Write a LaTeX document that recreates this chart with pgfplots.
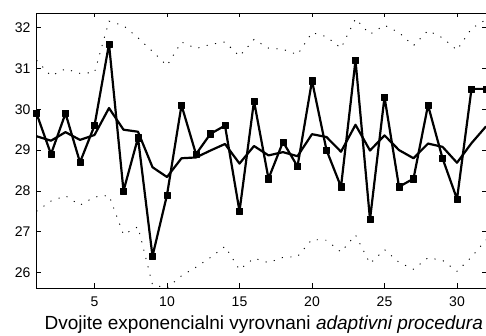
\documentclass[border=0pt]{standalone}
\usepackage{fontspec}
\setmainfont{Liberation Sans}
\usepackage{pgfplots}
\pgfplotsset{compat=1.18}
\usepackage{pgfplotstable}

% observed series, adaptive double exponential smoothing and its band
\pgfplotstableread{
t  data  smooth upper lower
1  29.9  29.34  31.20 27.50
2  28.9  29.23  30.82 27.75
3  29.9  29.44  30.99 27.88
4  28.7  29.25  30.88 27.65
5  29.6  29.37  30.90 27.85
6  31.6  30.03  32.16 27.89
7  28.0  29.50  32.05 26.93
8  29.3  29.45  31.75 27.12
9  26.4  28.58  31.42 25.70
10 27.9  28.34  31.07 25.62
11 30.1  28.80  31.65 25.92
12 28.9  28.82  31.49 26.13
13 29.4  28.99  31.59 26.37
14 29.6  29.15  31.65 26.64
15 27.5  28.67  31.30 26.07
16 30.2  29.10  31.71 26.35
17 28.3  28.87  31.50 26.24
18 29.2  28.95  31.47 26.37
19 28.6  28.85  31.34 26.39
20 30.7  29.39  31.88 26.81
21 29.0  29.32  31.78 26.79
22 28.1  28.96  31.50 26.50
23 31.2  29.62  32.22 26.92
24 27.3  28.99  31.84 26.22
25 30.3  29.36  32.06 26.56
26 28.1  29.00  31.88 26.25
27 28.3  28.80  31.56 26.08
28 30.1  29.16  31.93 26.36
29 28.8  29.08  31.75 26.30
30 27.8  28.69  31.45 26.03
31 30.5  29.17  31.98 26.38
32 30.5  29.58  32.20 26.80
}\series

\begin{document}
\begin{tikzpicture}
\begin{axis}[
  scale only axis,
  width=449.5pt, height=275pt,
  xmin=1, xmax=32, ymin=25.62, ymax=32.36,
  xtick={5,10,...,30}, ytick={26,27,...,32},
  tick align=inside,
  major tick length=4.5pt,
  tick style={black, line width=0.6pt},
  axis line style={line width=0.9pt},
  /pgf/number format/assume math mode=true,
  ticklabel style={font=\fontsize{14}{15}\selectfont},
  xticklabel style={yshift=-5.5pt},
  yticklabel style={xshift=-2.5pt},
  xlabel={Dvojite exponencialni vyrovnani \textit{adaptivni procedura}},
  xlabel style={font=\fontsize{19}{20}\selectfont, anchor=base,
    at={(axis description cs:0.5,0)}, yshift=-42pt, xshift=2.5pt},
]
\addplot[black, line width=0.9pt, dash pattern=on 1.1pt off 7.5pt] table[x=t, y=upper] {\series};
\addplot[black, line width=0.9pt, dash pattern=on 1.1pt off 7.5pt] table[x=t, y=lower] {\series};
\addplot[black, line width=2.2pt, line join=round] table[x=t, y=smooth] {\series};
\addplot[black, line width=2.2pt, line join=round, mark=square*, mark size=3.1pt,
  mark options={solid, line width=0.5pt}] table[x=t, y=data] {\series};
\end{axis}
\pgfresetboundingbox
\path[use as bounding box] ([xshift=-36.5pt, yshift=-48pt]current axis.south west)
  rectangle ([yshift=13pt]current axis.north east);
\end{tikzpicture}
\end{document}
